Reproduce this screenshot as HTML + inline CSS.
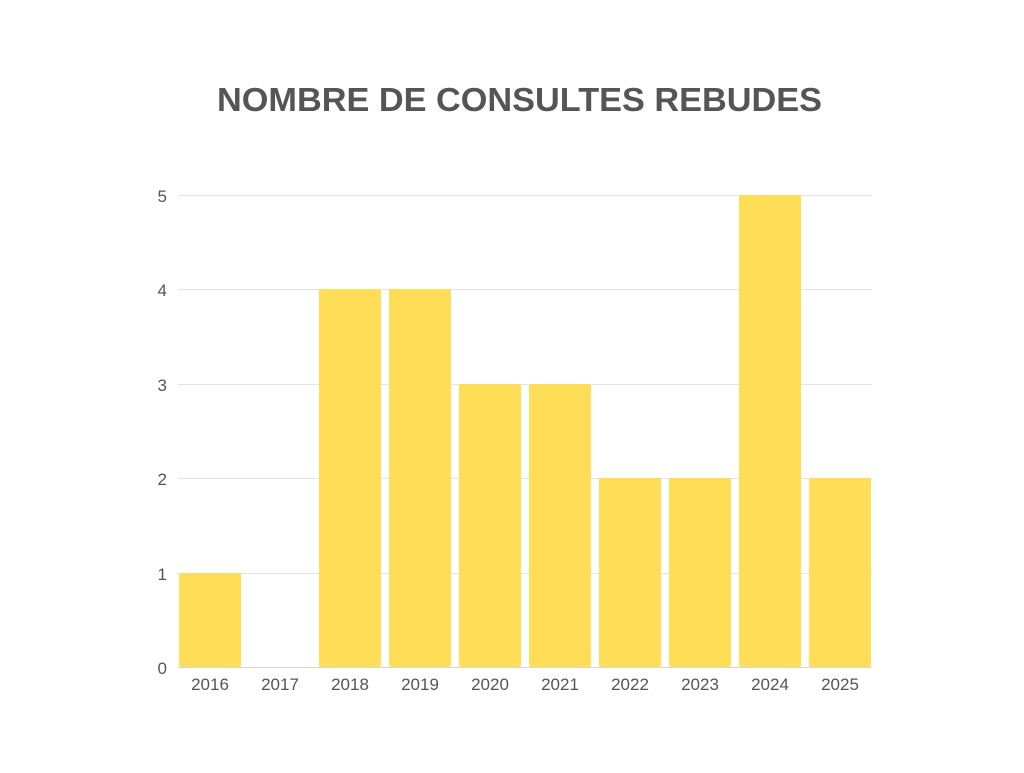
<!DOCTYPE html>
<html><head><style>
body{margin:0;background:#fff;}
svg text{font-family:"Liberation Sans",sans-serif;fill:#555;}
</style></head><body>
<svg width="1024" height="768" viewBox="0 0 1024 768" xmlns="http://www.w3.org/2000/svg">
<rect width="1024" height="768" fill="#fff"/>
<text x="217" y="111" font-size="33" font-weight="bold" textLength="605" lengthAdjust="spacingAndGlyphs" style="fill:#555">NOMBRE DE CONSULTES REBUDES</text>
<g stroke="#e3e3e3" stroke-width="1">
<line x1="178" x2="872" y1="195.5" y2="195.5"/>
<line x1="178" x2="872" y1="289.5" y2="289.5"/>
<line x1="178" x2="872" y1="384.5" y2="384.5"/>
<line x1="178" x2="872" y1="478.5" y2="478.5"/>
<line x1="178" x2="872" y1="573.5" y2="573.5"/>
</g>
<g font-size="17" text-anchor="end">
<text x="167" y="202">5</text>
<text x="167" y="296">4</text>
<text x="167" y="391">3</text>
<text x="167" y="485">2</text>
<text x="167" y="580">1</text>
<text x="167" y="674">0</text>
</g>
<g fill="#FFDD57">
<rect x="179" y="573" width="62" height="94" rx="2"/>
<rect x="319" y="289" width="62" height="378" rx="2"/>
<rect x="389" y="289" width="62" height="378" rx="2"/>
<rect x="459" y="384" width="62" height="283" rx="2"/>
<rect x="529" y="384" width="62" height="283" rx="2"/>
<rect x="599" y="478" width="62" height="189" rx="2"/>
<rect x="669" y="478" width="62" height="189" rx="2"/>
<rect x="739" y="195" width="62" height="472" rx="2"/>
<rect x="809" y="478" width="62" height="189" rx="2"/>
</g>
<line x1="178" x2="872" y1="667.5" y2="667.5" stroke="#d6d6d6"/>
<g font-size="17" text-anchor="middle">
<text x="210" y="690">2016</text>
<text x="280" y="690">2017</text>
<text x="350" y="690">2018</text>
<text x="420" y="690">2019</text>
<text x="490" y="690">2020</text>
<text x="560" y="690">2021</text>
<text x="630" y="690">2022</text>
<text x="700" y="690">2023</text>
<text x="770" y="690">2024</text>
<text x="840" y="690">2025</text>
</g>
</svg>
</body></html>
